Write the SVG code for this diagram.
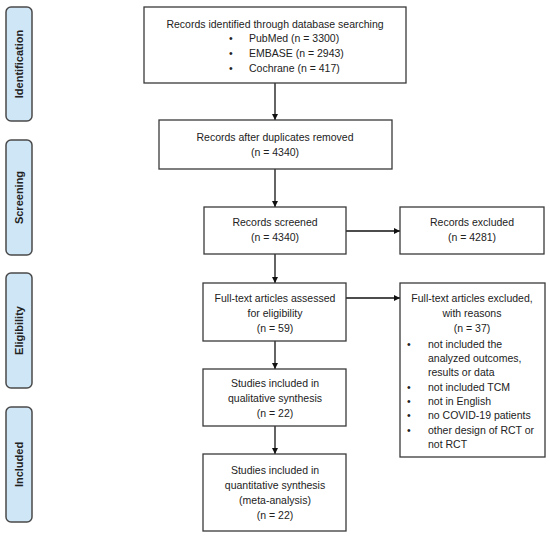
<svg xmlns="http://www.w3.org/2000/svg" width="550" height="538" viewBox="0 0 550 538">
<defs>
<style>
.box{fill:#fff;stroke:#3a3a3a;stroke-width:1.3}
.side{fill:#cfe6f7;stroke:#4a4a4a;stroke-width:1.5}
text{font-family:"Liberation Sans",Arial,sans-serif;font-size:10.5px;fill:#222}
.c{text-anchor:middle}
.lab{font-weight:bold;font-size:11px;text-anchor:middle}
.con{stroke:#111;stroke-width:1.3;fill:none;marker-end:url(#ah)}
</style>
<marker id="ah" viewBox="0 0 10 10" refX="10" refY="5" markerWidth="6" markerHeight="6" orient="auto" markerUnits="userSpaceOnUse">
<path d="M0,0 L10,5 L0,10 z" fill="#111"/>
</marker>
</defs>
<rect width="550" height="538" fill="#fff"/>

<g id="side-identification"><rect class="side" x="6" y="7" width="26" height="114" rx="5"/><text class="lab" transform="translate(23,64) rotate(-90)">Identification</text></g>
<g id="side-screening"><rect class="side" x="6" y="140" width="26" height="115" rx="5"/><text class="lab" transform="translate(23,197.5) rotate(-90)">Screening</text></g>
<g id="side-eligibility"><rect class="side" x="6" y="273" width="26" height="115" rx="5"/><text class="lab" transform="translate(23,330.5) rotate(-90)">Eligibility</text></g>
<g id="side-included"><rect class="side" x="6" y="407" width="26" height="115" rx="5"/><text class="lab" transform="translate(23,464.5) rotate(-90)">Included</text></g>

<g id="connectors">
<line class="con" x1="275" y1="83" x2="275" y2="120"/>
<line class="con" x1="275" y1="169" x2="275" y2="207"/>
<line class="con" x1="275" y1="254" x2="275" y2="283"/>
<line class="con" x1="275" y1="341" x2="275" y2="369"/>
<line class="con" x1="275" y1="426" x2="275" y2="454"/>
<line class="con" x1="346" y1="231" x2="400" y2="231"/>
<line class="con" x1="346" y1="298" x2="400" y2="298"/>
</g>

<g id="n-identified"><rect class="box" x="144" y="7" width="262" height="76"/>
<text class="c" x="275" y="28">Records identified through database searching</text>
<text x="229" y="42">•</text><text x="249" y="42">PubMed (n = 3300)</text>
<text x="229" y="57">•</text><text x="249" y="57">EMBASE (n = 2943)</text>
<text x="229" y="72">•</text><text x="249" y="72">Cochrane (n = 417)</text></g>

<g id="n-duplicates"><rect class="box" x="159" y="120" width="233" height="49"/>
<text class="c" x="275" y="141">Records after duplicates removed</text>
<text class="c" x="275" y="156">(n =  4340)</text></g>

<g id="n-screened"><rect class="box" x="204" y="207" width="142" height="47"/>
<text class="c" x="275" y="226">Records screened</text>
<text class="c" x="275" y="241">(n = 4340)</text></g>

<g id="n-excluded"><rect class="box" x="400" y="207" width="144" height="47"/>
<text class="c" x="472" y="226">Records excluded</text>
<text class="c" x="472" y="241">(n = 4281)</text></g>

<g id="n-fulltext"><rect class="box" x="203" y="283" width="143" height="58"/>
<text class="c" x="275" y="302">Full-text articles assessed</text>
<text class="c" x="275" y="317">for eligibility</text>
<text class="c" x="275" y="332">(n = 59)</text></g>

<g id="n-fulltext-excluded"><rect class="box" x="400" y="283" width="145" height="174"/>
<text class="c" x="472" y="302">Full-text articles excluded,</text>
<text class="c" x="472" y="317">with reasons</text>
<text class="c" x="472" y="332">(n =  37)</text>
<text x="407" y="348">•</text><text x="428" y="348">not included the</text>
<text x="428" y="362">analyzed outcomes,</text>
<text x="428" y="376">results or data</text>
<text x="407" y="391">•</text><text x="428" y="391">not included TCM</text>
<text x="407" y="405">•</text><text x="428" y="405">not in English</text>
<text x="407" y="419">•</text><text x="428" y="419">no COVID-19 patients</text>
<text x="407" y="434">•</text><text x="428" y="434">other design of RCT or</text>
<text x="428" y="448">not RCT</text></g>

<g id="n-qualitative"><rect class="box" x="203" y="369" width="143" height="57"/>
<text class="c" x="275" y="387">Studies included in</text>
<text class="c" x="275" y="402">qualitative synthesis</text>
<text class="c" x="275" y="417">(n = 22)</text></g>

<g id="n-quantitative"><rect class="box" x="203" y="454" width="143" height="77"/>
<text class="c" x="275" y="474">Studies included in</text>
<text class="c" x="275" y="489">quantitative synthesis</text>
<text class="c" x="275" y="504">(meta-analysis)</text>
<text class="c" x="275" y="519">(n = 22)</text></g>
</svg>
